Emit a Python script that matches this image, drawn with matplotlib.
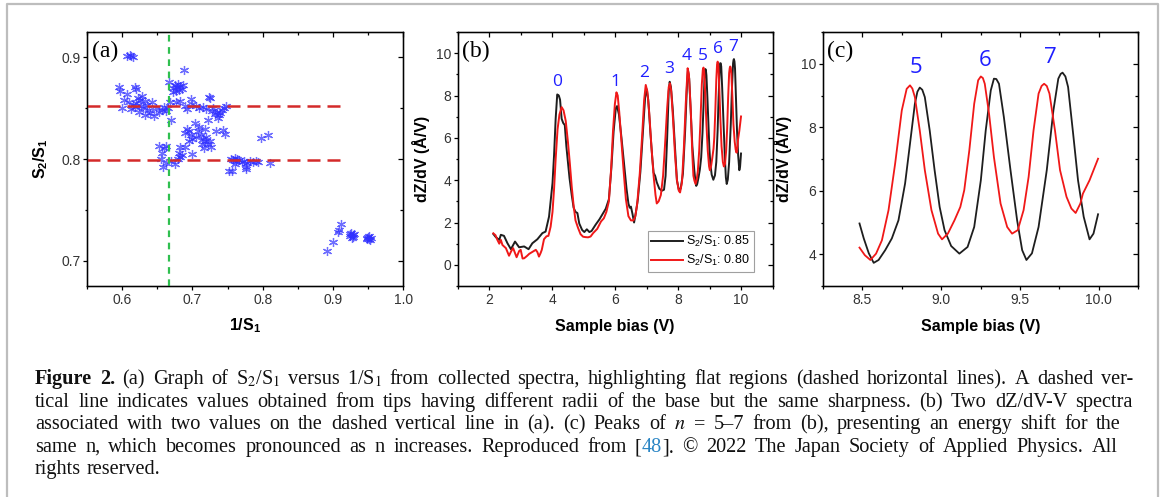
import matplotlib
matplotlib.use('Agg')
import matplotlib.pyplot as plt
from matplotlib.lines import Line2D
from matplotlib.ticker import MultipleLocator, FormatStrFormatter

plt.rcParams['font.family'] = ['Liberation Sans', 'DejaVu Sans']
plt.rcParams['mathtext.fontset'] = 'custom'
plt.rcParams['mathtext.rm'] = 'Liberation Sans'
plt.rcParams['mathtext.it'] = 'Liberation Sans:italic'
plt.rcParams['mathtext.bf'] = 'Liberation Sans:bold'

# (a) S2/S1 vs 1/S1 for the collected spectra
inv_s1 = [0.607, 0.611, 0.615, 0.613,
          0.596, 0.597, 0.607, 0.618, 0.620, 0.603, 0.610, 0.615, 0.612, 0.600,
          0.620, 0.625, 0.628, 0.632, 0.630, 0.635, 0.624, 0.618, 0.638, 0.640,
          0.645, 0.642, 0.648, 0.652, 0.657, 0.660, 0.663, 0.633, 0.627, 0.622,
          0.667, 0.668, 0.670, 0.665,
          0.672, 0.675, 0.678, 0.680, 0.683, 0.685, 0.677, 0.681, 0.686, 0.673,
          0.688, 0.676, 0.682, 0.690, 0.692,
          0.698, 0.699, 0.705, 0.710, 0.715, 0.720, 0.724, 0.725,
          0.728, 0.732, 0.735, 0.738, 0.740, 0.742, 0.745, 0.748, 0.736, 0.730,
          0.722, 0.743, 0.746,
          0.703, 0.692, 0.690, 0.695, 0.698, 0.700, 0.695, 0.705, 0.708, 0.712,
          0.715, 0.718, 0.713, 0.720, 0.722, 0.716, 0.725, 0.727, 0.710, 0.718,
          0.700, 0.690, 0.734,
          0.798, 0.808,
          0.652, 0.657, 0.660, 0.663, 0.658, 0.655, 0.662,
          0.670, 0.675, 0.679, 0.682, 0.683, 0.681, 0.685,
          0.755, 0.758, 0.760, 0.762, 0.764, 0.767, 0.770, 0.774, 0.778, 0.782,
          0.786, 0.790, 0.794, 0.776, 0.760, 0.810, 0.752, 0.757, 0.777,
          0.891, 0.900, 0.907, 0.909, 0.911,
          0.924, 0.926, 0.928, 0.930, 0.927, 0.929, 0.925,
          0.948, 0.950, 0.952, 0.954, 0.951, 0.953, 0.949]
s2_s1 = [0.901, 0.902, 0.900, 0.901,
         0.871, 0.867, 0.864, 0.871, 0.869, 0.858, 0.856, 0.853, 0.849, 0.850,
         0.855, 0.858, 0.862, 0.857, 0.850, 0.853, 0.846, 0.851, 0.848, 0.845,
         0.842, 0.856, 0.850, 0.846, 0.848, 0.851, 0.847, 0.843, 0.852, 0.860,
         0.876, 0.856, 0.838, 0.850,
         0.870, 0.873, 0.871, 0.874, 0.872, 0.869, 0.867, 0.868, 0.873, 0.866,
         0.888, 0.856, 0.857, 0.852, 0.849,
         0.859, 0.854, 0.852, 0.850, 0.851, 0.849, 0.861, 0.860,
         0.847, 0.844, 0.846, 0.843, 0.845, 0.848, 0.850, 0.852, 0.840, 0.850,
         0.838, 0.829, 0.825,
         0.835, 0.830, 0.826, 0.828, 0.824, 0.820, 0.818, 0.822, 0.828, 0.824,
         0.820, 0.818, 0.815, 0.822, 0.815, 0.811, 0.818, 0.812, 0.832, 0.830,
         0.805, 0.812, 0.828,
         0.821, 0.824,
         0.813, 0.806, 0.811, 0.813, 0.792, 0.800, 0.796,
         0.798, 0.795, 0.800, 0.812, 0.802, 0.806, 0.804,
         0.800, 0.799, 0.801, 0.798, 0.800, 0.799, 0.797, 0.798, 0.796, 0.798,
         0.797, 0.798, 0.797, 0.792, 0.795, 0.796, 0.788, 0.788, 0.790,
         0.709, 0.718, 0.728, 0.730, 0.736,
         0.724, 0.727, 0.725, 0.726, 0.722, 0.723, 0.726,
         0.722, 0.723, 0.721, 0.722, 0.724, 0.720, 0.721]
flat_levels = [0.852, 0.799]
flat_xmax = 0.91
same_sharpness = 0.667

# (b), (c) dZ/dV spectra for the two tips
bias_085 = [2.13, 2.21, 2.32, 2.37, 2.47, 2.58, 2.69, 2.82, 2.95, 3.11,
            3.25, 3.37, 3.53, 3.69, 3.79, 3.90, 4.01, 4.06, 4.11, 4.16,
            4.21, 4.25, 4.30, 4.35, 4.40, 4.45, 4.55, 4.62, 4.68, 4.74,
            4.80, 4.86, 4.95, 5.02, 5.10, 5.18, 5.25, 5.38, 5.50, 5.60,
            5.70, 5.80, 5.88, 5.95, 6.02, 6.06, 6.12, 6.20, 6.28, 6.36,
            6.42, 6.46, 6.50, 6.55, 6.60, 6.66, 6.72, 6.80, 6.88, 6.95,
            7.00, 7.05, 7.12, 7.18, 7.22, 7.27, 7.32, 7.40, 7.48, 7.55,
            7.60, 7.65, 7.70, 7.73, 7.77, 7.83, 7.90, 7.96, 8.02, 8.08,
            8.15, 8.22, 8.28, 8.31, 8.35, 8.40, 8.45,
            8.483, 8.510, 8.542, 8.573, 8.604, 8.646, 8.688, 8.730, 8.772, 8.803,
            8.834, 8.850, 8.865, 8.881, 8.897, 8.928, 8.959, 8.991, 9.022, 9.064,
            9.116, 9.168, 9.210, 9.252, 9.283, 9.315, 9.335, 9.350, 9.367, 9.398,
            9.440, 9.482, 9.514, 9.541, 9.576, 9.618, 9.670, 9.712, 9.743, 9.758,
            9.770, 9.788, 9.805, 9.837, 9.868, 9.904, 9.941, 9.966, 9.995]
dzdv_085 = [1.46, 1.31, 1.18, 1.42, 1.37, 1.02, 0.74, 1.10, 0.83, 0.87,
            0.74, 1.02, 1.21, 1.50, 1.57, 2.28, 3.86, 5.20, 6.90, 8.05,
            8.00, 7.80, 6.90, 6.70, 6.60, 5.60, 4.10, 3.30, 2.70, 2.50,
            2.45, 1.95, 1.65, 1.55, 1.68, 1.55, 1.60, 1.90, 2.15, 2.40,
            2.65, 3.10, 4.60, 6.30, 7.40, 7.50, 7.10, 6.00, 4.80, 3.60,
            2.90, 2.70, 2.75, 2.40, 2.00, 2.50, 3.10, 4.40, 6.30, 7.90,
            8.30, 7.80, 6.20, 5.00, 4.35, 4.20, 3.90, 3.60, 3.50, 3.55,
            4.20, 6.00, 8.20, 8.65, 8.40, 7.30, 5.50, 4.00, 3.55, 3.60,
            4.30, 6.30, 8.50, 9.20, 8.80, 7.20, 5.60,
            4.97, 4.50, 4.03, 3.73, 3.82, 4.13, 4.50, 5.07, 6.23, 7.48,
            8.74, 9.12, 9.25, 9.18, 8.95, 7.90, 6.65, 5.49, 4.76, 4.26,
            4.02, 4.23, 4.86, 6.33, 7.90, 9.16, 9.53, 9.52, 9.37, 8.32,
            6.65, 5.07, 4.13, 3.82, 4.03, 4.86, 6.65, 8.53, 9.53, 9.68,
            9.72, 9.60, 9.27, 7.80, 6.33, 5.18, 4.47, 4.65, 5.26]

bias_080 = [2.13, 2.20, 2.26, 2.32, 2.37, 2.42, 2.53, 2.63, 2.70, 2.76,
            2.87, 2.95, 3.00, 3.06, 3.11, 3.20, 3.27, 3.38, 3.48, 3.53,
            3.58, 3.63, 3.67, 3.74, 3.82, 3.88, 3.95, 4.01, 4.06, 4.11,
            4.17, 4.23, 4.30, 4.36, 4.43, 4.50, 4.56, 4.62, 4.68, 4.74,
            4.82, 4.90, 4.98, 5.06, 5.14, 5.22, 5.30, 5.43, 5.55, 5.64,
            5.72, 5.80, 5.87, 5.93, 5.99, 6.04, 6.08, 6.13, 6.20, 6.27,
            6.34, 6.42, 6.50, 6.58, 6.64, 6.70, 6.78, 6.86, 6.92, 6.97,
            7.02, 7.08, 7.15, 7.22, 7.28, 7.32, 7.38, 7.45, 7.52, 7.58,
            7.65, 7.70, 7.74, 7.78, 7.84, 7.90, 7.96, 8.02, 8.06, 8.12,
            8.18, 8.24, 8.30, 8.34, 8.40, 8.45,
            8.483, 8.517, 8.552, 8.588, 8.625, 8.667, 8.709, 8.751, 8.782, 8.803,
            8.818, 8.834, 8.865, 8.897, 8.939, 8.981, 9.006, 9.043, 9.085, 9.122,
            9.147, 9.179, 9.210, 9.235, 9.252, 9.265, 9.277, 9.304, 9.335, 9.377,
            9.419, 9.450, 9.486, 9.523, 9.555, 9.586, 9.618, 9.637, 9.653, 9.670,
            9.687, 9.722, 9.754, 9.795, 9.826, 9.853, 9.883, 9.899, 9.941, 9.995]
dzdv_080 = [1.49, 1.40, 1.18, 1.00, 1.18, 0.94, 0.79, 0.43, 0.65, 0.79,
            0.36, 0.65, 0.71, 0.30, 0.31, 0.42, 0.52, 0.62, 0.71, 0.60,
            0.39, 0.55, 0.71, 1.21, 1.35, 1.37, 1.80, 2.50, 3.60, 5.00,
            6.40, 7.10, 7.45, 7.30, 6.80, 5.80, 4.80, 3.70, 2.80, 2.10,
            1.75, 1.45, 1.33, 1.31, 1.30, 1.34, 1.50, 1.70, 2.05, 2.20,
            2.50, 3.00, 4.50, 6.30, 7.60, 8.15, 8.00, 7.20, 5.80, 4.40,
            3.10, 2.30, 2.10, 2.10, 2.30, 2.90, 4.30, 6.20, 7.80, 8.50,
            8.20, 7.20, 5.60, 4.20, 3.30, 2.90, 3.00, 3.30, 4.20, 5.60,
            7.40, 8.40, 8.58, 8.20, 6.80, 5.20, 4.00, 3.50, 3.42, 3.90,
            5.50, 7.60, 9.29, 9.00, 7.30, 5.20,
            4.21, 3.97, 3.82, 4.02, 4.44, 5.39, 6.86, 8.53, 9.21, 9.32,
            9.22, 8.95, 7.90, 6.65, 5.39, 4.65, 4.47, 4.65, 5.07, 5.49,
            6.02, 7.27, 8.74, 9.48, 9.60, 9.55, 9.37, 8.43, 7.06, 5.60,
            4.86, 4.65, 4.76, 5.39, 6.44, 7.90, 9.06, 9.30, 9.37, 9.30,
            9.06, 7.90, 6.65, 5.81, 5.44, 5.30, 5.60, 5.91, 6.33, 7.01]

# peak index labels (n, bias, height) for (b) and (c)
peak_n_b = ['0', '1', '2', '3', '4', '5', '6', '7']
peak_x_b = [4.16, 6.01, 6.93, 7.73, 8.28, 8.79, 9.28, 9.74]
peak_y_b = [8.66, 8.66, 9.06, 9.24, 9.87, 9.87, 10.19, 10.28]
peak_n_c = ['5', '6', '7']
peak_x_c = [8.84, 9.28, 9.69]
peak_y_c = [9.89, 10.10, 10.20]
zoom_start = 8.47   # (c) shows the spectra from here on

BLUE_PTS = '#3030ff'
LBL_BLUE = '#1f1fff'
BLACK = '#1e1e1e'
RED = '#f01818'
TICK_KW = dict(width=0.9, pad=1.8)


def set_ticks(ax, xmaj, xmin, ymaj, ymin):
    ax.xaxis.set_major_locator(MultipleLocator(xmaj))
    ax.xaxis.set_minor_locator(MultipleLocator(xmin))
    ax.yaxis.set_major_locator(MultipleLocator(ymaj))
    ax.yaxis.set_minor_locator(MultipleLocator(ymin))


def mirror_ticks(ax):
    # inward ticks on the top and right sides
    tx = ax.twiny()
    tx.set_xlim(ax.get_xlim())
    tx.xaxis.set_major_locator(ax.xaxis.get_major_locator())
    tx.xaxis.set_minor_locator(ax.xaxis.get_minor_locator())
    tx.tick_params(which='both', direction='in', labeltop=False, **TICK_KW)
    tx.tick_params(which='major', length=3.5)
    tx.tick_params(which='minor', length=2)
    ty = ax.twinx()
    ty.set_ylim(ax.get_ylim())
    ty.yaxis.set_major_locator(ax.yaxis.get_major_locator())
    ty.yaxis.set_minor_locator(ax.yaxis.get_minor_locator())
    ty.tick_params(which='both', direction='in', labelright=False, **TICK_KW)
    ty.tick_params(which='major', length=3.5)
    ty.tick_params(which='minor', length=2)


fig = plt.figure(figsize=(11.67, 4.97), dpi=100)
ax_a = fig.add_axes([0.0746, 0.4245, 0.2708, 0.5111])
ax_b = fig.add_axes([0.3922, 0.4245, 0.2699, 0.5111])
ax_c = fig.add_axes([0.7050, 0.4245, 0.2704, 0.5111])

for ax in (ax_a, ax_b, ax_c):
    for spine in ax.spines.values():
        spine.set_linewidth(1.0)
    ax.tick_params(which='both', direction='out', labelsize=10,
                   labelcolor='#333333', **TICK_KW)
    ax.tick_params(which='major', length=3)
    ax.tick_params(which='minor', length=1.8)

# ---- (a)
ax_a.plot(inv_s1, s2_s1, linestyle='none', marker=(6, 2, 0), markersize=6.5,
          markeredgewidth=0.9, color=BLUE_PTS, alpha=0.7, zorder=3)
for lvl in flat_levels:
    ax_a.plot([0.55, flat_xmax], [lvl, lvl], color='#d42a2a', lw=1.8,
              dashes=(5.2, 2.8), zorder=4)
ax_a.axvline(same_sharpness, color='#2fbf4f', lw=1.6, dashes=(3, 2.5), zorder=4)
ax_a.set_xlim(0.55, 1.0)
ax_a.set_ylim(0.675, 0.925)
set_ticks(ax_a, 0.1, 0.05, 0.1, 0.05)
ax_a.set_xlabel(r'1/S$_\mathbf{1}$', fontsize=11.5, fontweight='bold', labelpad=7)
ax_a.set_ylabel(r'S$_\mathbf{2}$/S$_\mathbf{1}$', fontsize=11.5, fontweight='bold',
                labelpad=8)

# ---- (b)
ax_b.plot(bias_085, dzdv_085, color=BLACK, lw=1.4, label=r'S$_2$/S$_1$: 0.85')
ax_b.plot(bias_080, dzdv_080, color=RED, lw=1.4, label=r'S$_2$/S$_1$: 0.80')
for n, x, y in zip(peak_n_b, peak_x_b, peak_y_b):
    ax_b.text(x, y, n, color=LBL_BLUE, fontsize=12.5, family='Open Sans',
              ha='center', va='center')
ax_b.set_xlim(1, 11)
ax_b.set_ylim(-1, 11)
set_ticks(ax_b, 2, 1, 2, 1)
ax_b.set_xlabel('Sample bias (V)', fontsize=11.5, fontweight='bold', labelpad=9)
ax_b.set_ylabel('dZ/dV (Å/V)', fontsize=11.5, fontweight='bold', labelpad=4)
leg = ax_b.legend(loc='lower right', bbox_to_anchor=(0.94, 0.055), fontsize=9,
                  frameon=True, fancybox=False, edgecolor='#888888',
                  handlelength=2.5, handletextpad=0.3, borderpad=0.3,
                  labelspacing=0.3, borderaxespad=0.0)
leg.get_frame().set_linewidth(0.8)

# ---- (c) close-up of peaks n = 5-7
c085 = [(x, y) for x, y in zip(bias_085, dzdv_085) if x >= zoom_start]
c080 = [(x, y) for x, y in zip(bias_080, dzdv_080) if x >= zoom_start]
ax_c.plot([p[0] for p in c085], [p[1] for p in c085], color=BLACK, lw=1.3)
ax_c.plot([p[0] for p in c080], [p[1] for p in c080], color=RED, lw=1.3)
for n, x, y in zip(peak_n_c, peak_x_c, peak_y_c):
    ax_c.text(x, y, n, color=LBL_BLUE, fontsize=16, family='Open Sans',
              ha='center', va='center')
ax_c.set_xlim(8.25, 10.25)
ax_c.set_ylim(3, 11)
set_ticks(ax_c, 0.5, 0.25, 2, 1)
ax_c.xaxis.set_major_formatter(FormatStrFormatter('%.1f'))
ax_c.set_xlabel('Sample bias (V)', fontsize=11.5, fontweight='bold', labelpad=9)
ax_c.set_ylabel('dZ/dV (Å/V)', fontsize=11.5, fontweight='bold', labelpad=6)

for ax in (ax_a, ax_b, ax_c):
    mirror_ticks(ax)

for ax, letter in ((ax_a, '(a)'), (ax_b, '(b)'), (ax_c, '(c)')):
    ax.text(0.015, 0.965, letter, transform=ax.transAxes, fontsize=17,
            family='Liberation Serif', ha='left', va='top', zorder=6)

# caption: justified lines, laid out word by word
cap_kw = dict(fontsize=14.6, family='Liberation Serif', math_fontfamily='stix',
              ha='left', va='baseline', color='#111111')
x0 = 35
base_px = [384, 407, 429, 452, 474]
right_px = [1133, 1133, 1121, 1118, None]
caption = [
    [('Figure 2.', {'fontweight': 'bold'}),
     (r' (a) Graph of S$_2$/S$_1$ versus 1/S$_1$ from collected spectra, '
      'highlighting flat regions (dashed horizontal lines). A dashed ver-', {})],
    [('tical line indicates values obtained from tips having different radii of the base '
      'but the same sharpness. (b) Two dZ/dV-V spectra', {})],
    [(r'associated with two values on the dashed vertical line in (a). (c) Peaks of $n$ = 5–7 '
      'from (b), presenting an energy shift for the', {})],
    [('same n, which becomes pronounced as n increases. Reproduced from [', {}),
     ('48', {'color': '#2b86c5'}),
     ('].  © 2022 The Japan Society of Applied Physics. All', {})],
    [('rights reserved.', {})],
]


def split_words(runs):
    words = []
    for text, style in runs:
        for i, part in enumerate(text.split(' ')):
            glued = i == 0 and words and not text.startswith(' ')
            if not part:
                continue
            if glued:
                words[-1].append((part, style))
            else:
                words.append([(part, style)])
    return words


fig.canvas.draw()
r = fig.canvas.get_renderer()
W, H = fig.bbox.width, fig.bbox.height
for runs, b, right in zip(caption, base_px, right_px):
    placed = []
    for word in split_words(runs):
        pieces = []
        for txt, extra in word:
            t = fig.text(0, 1 - b / H, txt, **{**cap_kw, **extra})
            pieces.append((t, t.get_window_extent(r).width))
        placed.append(pieces)
    widths = [sum(w for _, w in p) for p in placed]
    if right is None:
        gap = 0.25 * cap_kw['fontsize'] * fig.dpi / 72
    else:
        gap = (right - x0 - sum(widths)) / (len(placed) - 1)
    xpos = x0
    for pieces, ww in zip(placed, widths):
        xp = xpos
        for t, w in pieces:
            t.set_x(xp / W)
            xp += w
        xpos += ww + gap

# box frame around the figure
fx0, fx1, fy1 = 7 / 1167, 1158 / 1167, 1 - 4 / 497
fig.add_artist(Line2D([fx0, fx0, fx1, fx1], [0, fy1, fy1, 0],
                      transform=fig.transFigure, color='#bdbdbd', lw=1.6))

fig.savefig('out.png', dpi=100)
